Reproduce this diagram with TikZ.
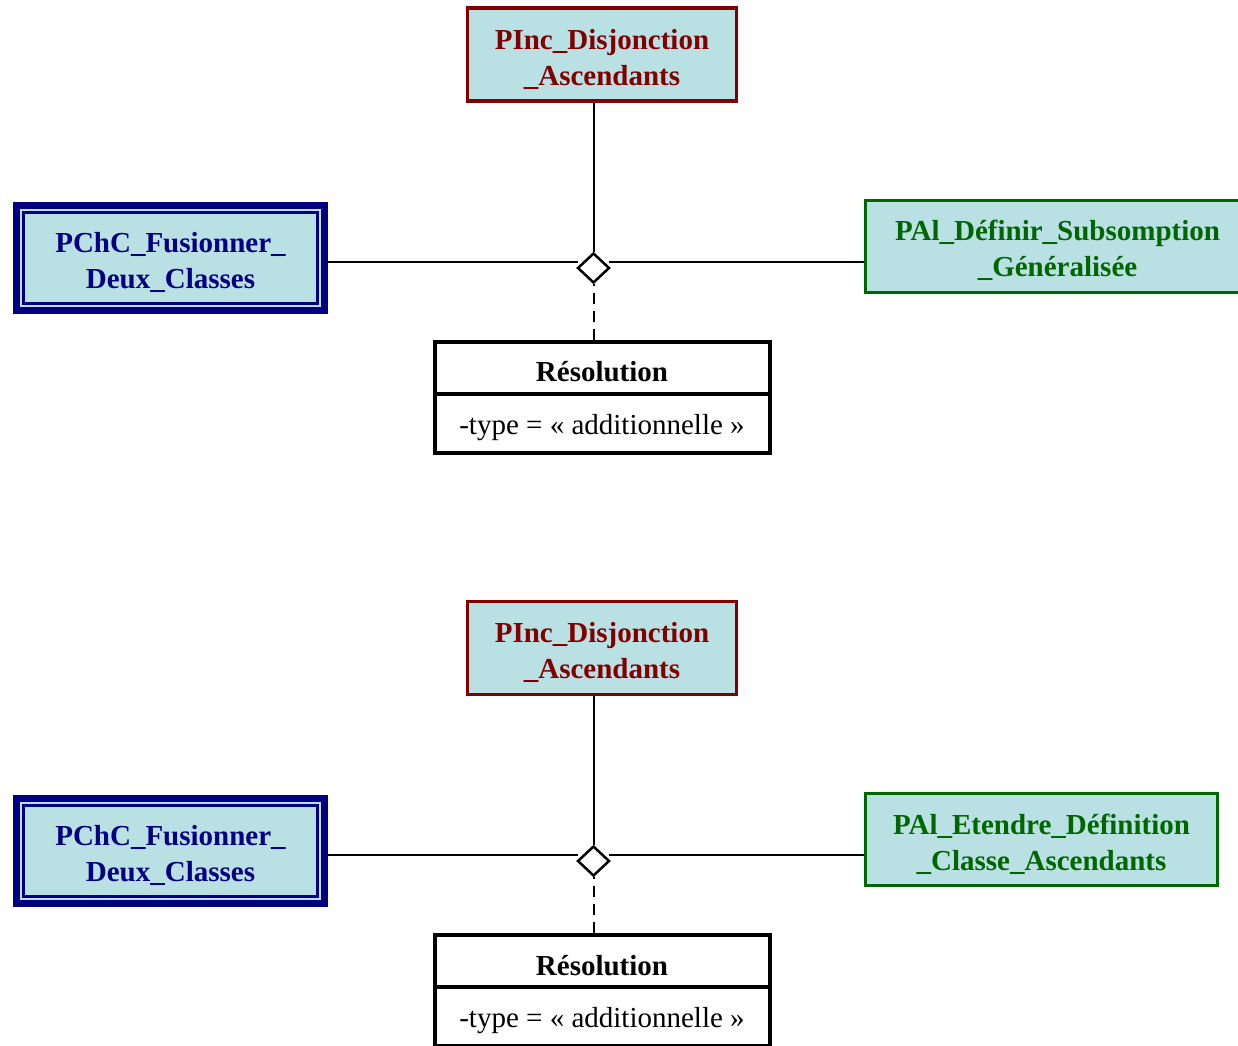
\documentclass[tikz,border=0pt]{standalone}
\usepackage{fontspec}
\setmainfont{Liberation Serif}
\usetikzlibrary{shapes.geometric}
\definecolor{boxfill}{RGB}{185,224,227}
\definecolor{pred}{RGB}{128,0,0}
\definecolor{pnavy}{RGB}{0,0,128}
\definecolor{pgreen}{RGB}{0,102,0}
\tikzset{
 lowtext/.style={execute at begin node={\rule{0pt}{28.5pt}}},
 basebox/.style={font=\fontsize{29}{36}\selectfont\bfseries, align=center, inner sep=0pt, fill=boxfill, text height=61pt, text depth=0pt},
 incbox/.style={basebox, draw=pred, text=pred, line width=3.5pt, minimum width=269pt, minimum height=93pt},
 chcbox/.style={basebox, draw=pnavy, text=pnavy, line width=7pt, minimum width=308pt, minimum height=105pt},
 chcinner/.style={draw=pnavy, line width=2.5pt},
 albox/.style={basebox, draw=pgreen, text=pgreen, line width=3.5pt, minimum height=92pt},
 assoc/.style={diamond, draw=black, fill=white, line width=2.5pt, minimum width=32pt, minimum height=30pt, inner sep=0pt},
 conn/.style={draw=black, line width=2pt},
 dconn/.style={conn, dash pattern=on 11pt off 7pt, dash phase=9pt},
 restitle/.style={draw=black, fill=white, line width=4pt, minimum width=335pt, minimum height=52pt, font=\fontsize{29}{36}\selectfont\bfseries, inner sep=0pt, lowtext},
 resattr/.style={draw=black, fill=white, line width=4pt, minimum width=335pt, minimum height=59pt, font=\fontsize{29}{36}\selectfont, inner sep=0pt, lowtext},
}
\begin{document}
\begin{tikzpicture}[x=1pt,y=-1pt]
\useasboundingbox (0,0) rectangle (1238,1045);
\clip (0,0) rectangle (1238,1045);
\fill[white] (0,0) rectangle (1238,1045);

% ---------- top diagram ----------
\node[incbox] (pincA) at (602,54.5) {PInc\_Disjonction\\\_Ascendants};
\node[chcbox] (pchcA) at (170.5,258) {PChC\_Fusionner\_\\Deux\_Classes};
\draw[chcinner] ([shift={(10.3pt,10.5pt)}]pchcA.south west) rectangle ([shift={(-10.3pt,-10.5pt)}]pchcA.north east);
\node[albox, minimum width=384pt] (palA) at (1057.5,246.3) {PAl\_Définir\_Subsomption\\\_Généralisée};
\node[assoc] (dA) at (593.5,268) {};
\node[restitle] (resA) at (602,367.5) {Résolution};
\node[resattr] (resAb) at (602,423.2) {-type = « additionnelle »};
\coordinate (hLA) at (578,262);
\coordinate (hRA) at (609,262);
\draw[conn] (dA.north) -- (dA.north |- pincA.south);
\draw[conn] (pchcA.east |- hLA) -- (hLA);
\draw[conn] (hRA) -- (hRA -| palA.west);
\draw[dconn] (dA.south) -- (dA.south |- resA.north);

% ---------- bottom diagram ----------
\node[incbox] (pincB) at (602,648) {PInc\_Disjonction\\\_Ascendants};
\node[chcbox] (pchcB) at (170.5,851) {PChC\_Fusionner\_\\Deux\_Classes};
\draw[chcinner] ([shift={(10.3pt,10.5pt)}]pchcB.south west) rectangle ([shift={(-10.3pt,-10.5pt)}]pchcB.north east);
\node[albox, minimum width=352pt] (palB) at (1041.5,839.5) {PAl\_Etendre\_Définition\\\_Classe\_Ascendants};
\node[assoc] (dB) at (593.5,861) {};
\node[restitle] (resB) at (602,961) {Résolution};
\node[resattr] (resBb) at (602,1016.7) {-type = « additionnelle »};
\coordinate (hLB) at (578,855);
\coordinate (hRB) at (609,855);
\draw[conn] (dB.north) -- (dB.north |- pincB.south);
\draw[conn] (pchcB.east |- hLB) -- (hLB);
\draw[conn] (hRB) -- (hRB -| palB.west);
\draw[dconn] (dB.south) -- (dB.south |- resB.north);
\end{tikzpicture}
\end{document}
